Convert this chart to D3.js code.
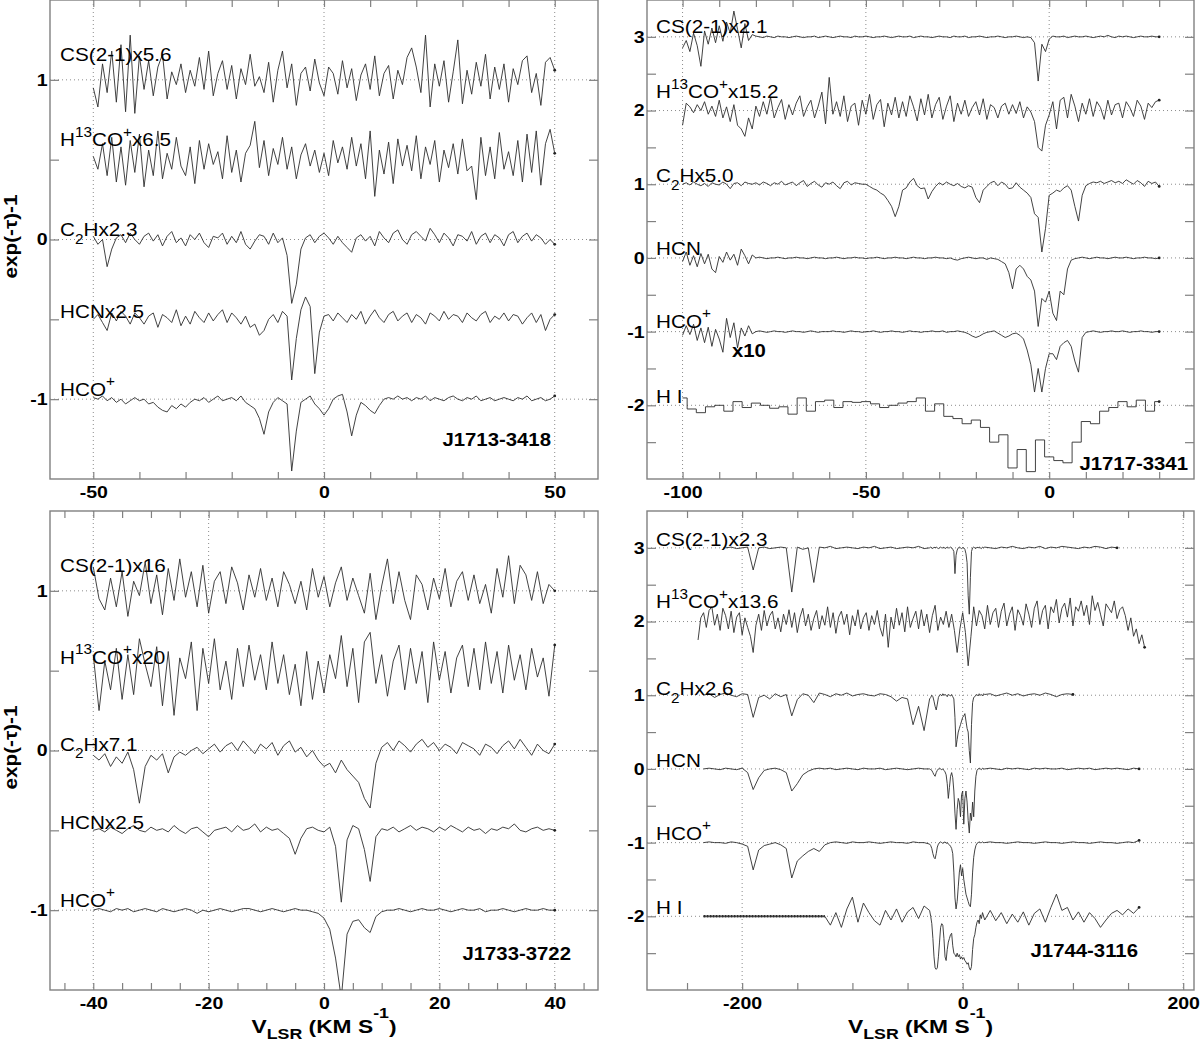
<!DOCTYPE html>
<html lang="en">
<head>
<meta charset="UTF-8">
<title>Absorption spectra towards four pulsars</title>
<script src="https://cdnjs.cloudflare.com/ajax/libs/d3/7.8.5/d3.min.js"></script>
<style>
  body { margin: 0; background: #fff; }
  svg text { font-family: "Liberation Sans", Arial, Helvetica, sans-serif; fill: #000; }
  .frame { fill: none; stroke: #808080; stroke-width: 1.4; }
  .axis .domain { display: none; }
  .axis line { stroke: #808080; stroke-width: 1.2; }
  .axis text { font-size: 17px; font-weight: bold; }
  .grid { stroke: #8c8c8c; stroke-width: 1; stroke-dasharray: 1,3; }
  .spec { fill: none; stroke: #2e2e2e; stroke-width: 0.9; stroke-linejoin: round; }
  .blank { fill: none; stroke: #2e2e2e; stroke-width: 2.4; stroke-dasharray: 2,1; }
</style>
</head>
<body>
<div id="chart"></div>
<script>
// exp(-tau)-1 of each line, in units of 0.01 (before the vertical offset)

// ---- J1713-3418, channels -50..50 km/s, 1 km/s ----
const j1713_vel = d3.range(-50, 51, 1);
const j1713_cs = [-5,-17,10,-8,18,-14,22,-20,28,-21, 15,-6,12,-10,8,16,-12,5,-3,10, -8,6,-4,14,-6,18,-10,4,12,-6,
  9,-12,7,-3,16,-4,2,-8,11,-14, 6,18,-5,10,-16,4,8,-7,13,-2, -10,8,4,-9,12,-5,7,-13,3,10,
  -6,15,-10,4,9,-12,6,-3,14,20, 8,-8,28,-17,10,-4,12,-14,5,25, -15,6,-9,11,-4,16,-12,8,-6,10, -14,7,-3,12,15,-8,4,-16,11,14,6];
const j1713_h13co = [2,-6,10,-10,14,-14,8,-16,12,-8, 16,-17,6,-10,18,-12,4,-6,14,-4, -10,8,-15,12,-6,10,-3,5,-12,15,
  -8,6,-14,4,9,24,-5,12,-10,7, -3,14,-6,8,-12,3,10,-4,6,-8, 4,-10,12,-2,8,-6,14,-4,10,-12,
  18,-23,6,-9,11,-15,13,-4,9,-7, 15,-12,8,-3,12,-14,6,-5,10,-9, 13,-7,-4,-25,14,-10,8,-12,17,-6, 5,-10,12,-14,16,-8,18,-16,10,19,4];
const j1713_c2h = [2,-3,0,-17,-6,1,3,-2,4,0, -3,2,4,-1,3,-4,2,5,-2,1, -4,3,0,4,-2,-5,2,1,4,-3,
  2,-2,5,-3,-6,-1,3,2,-3,4, -2,1,-10,-40,-28,-6,1,3,-2,2, 4,1,-3,2,-2,-5,-8,1,3,-1,
  2,-4,5,1,-2,4,6,0,-3,3, 5,2,-1,7,3,-2,4,1,-4,3, 2,-1,5,-3,2,4,-2,3,1,-4, 3,5,-2,2,4,-1,3,1,-3,0,-3];
const j1713_hcn = [0,3,-2,-7,4,-1,5,2,-3,4, 1,-3,2,4,-5,3,1,-2,6,-4, 2,-3,5,1,-2,4,-1,3,6,-2,
  4,1,-3,2,-5,-3,-10,-7,0,3, -2,5,2,-38,-12,6,14,8,-34,-8, 2,3,-1,4,1,-2,3,0,5,-3,
  2,6,1,-2,3,5,-1,2,4,-2, 3,1,-3,4,2,-1,5,0,3,2, -2,4,1,-1,3,5,-2,2,0,4, -1,3,2,-3,1,4,-2,3,-7,0,3];
const j1713_hco = [1,0,2,-1,1,-2,0,-3,-1,1, -1,0,-3,-2,-5,-7,-8,-4,-6,-3, -5,-2,0,-1,1,-2,0,2,-1,0,
  1,-1,2,-2,-4,-6,-12,-22,-8,-2, 1,-1,-3,-45,-20,-2,0,2,-3,-6, -10,-6,0,2,3,-8,-23,-10,-2,-4,
  -7,-9,-4,0,1,0,2,0,1,-1, 1,0,2,-1,1,0,-1,1,2,0, -1,1,0,2,-1,0,1,-1,0,1, 0,-1,1,0,2,-1,0,1,-1,0,2];
const j1713_offsets = [1, 0.5, 0, -0.5, -1];
const j1713_labels = ["CS(2-1)x5.6", "H^{13}CO^{+}x6.5", "C_{2}Hx2.3", "HCNx2.5", "HCO^{+}"];

// ---- J1717-3341, channels -100..30 km/s, 1 km/s (H I 2.5 km/s) ----
const j1717_vel = d3.range(-100, 31, 1);
const j1717_hi_vel = d3.range(-100, 31, 2.5);
const j1717_cs = [-15,-5,-20,5,-12,-40,8,-10,12,-8, 15,-6,20,5,35,10,-15,18,-5,3,
  1,0,-1,1,0,-1,1,0,0,-1, 0,1,0,-1,0,0,1,-1,0,1, 0,-1,0,1,0,0,-1,1,0,0, 1,0,-1,0,0,1,0,-1,0,1,
  0,0,1,-1,0,1,0,0,-1,0, 1,0,0,-1,1,0,0,1,-1,0, 0,1,0,-1,0,0,1,0,-1,0, 0,1,0,-1,0,-1,-8,-60,-10,-20,
  -3,1,0,0,1,-1,0,1,0,0, 1,0,-1,0,1,0,2,0,-1,1, 0,1,0,-1,0,1,0,0,1,0, 0];
const j1717_h13co = [-20,10,5,-3,8,0,12,-5,6,-8, 14,-10,5,-15,8,-20,-25,-35,-10,-25,
  6,-8,12,-5,18,-10,4,15,-12,8, -6,10,20,-8,5,14,-10,6,25,-18, 45,-5,12,-8,20,-15,6,10,-20,14,
  -5,22,-12,8,15,-22,10,-6,18,-10, 12,-8,20,5,-14,16,-6,22,-10,8, 18,-12,6,20,-15,10,-5,14,-8,4,
  12,-6,16,-12,8,4,-10,6,10,-5, 8,-4,12,-10,5,-2,-15,-50,-55,-20, -6,12,-25,14,18,-10,22,6,-15,10,
  -5,16,-8,12,4,-12,14,-6,8,10, -10,12,4,-8,14,6,-12,10,4,12, 14];
const j1717_c2h = [0,2,-1,3,0,-2,1,-3,2,0, -1,3,0,-6,1,2,-2,3,1,0, 2,-1,3,1,-2,2,0,4,-1,1,
  3,-2,2,5,-3,1,4,-1,-4,2, 0,3,-2,-6,2,4,-1,2,1,0, 0,-3,-6,-8,-12,-15,-22,-30,-44,-30,
  -8,-5,3,8,-2,-6,-5,-20,-10,-3, 2,-1,3,0,-2,1,-3,-5,-2,-4, -18,-25,-8,-3,2,4,-2,3,0,-6,
  -5,2,-4,-8,-12,-18,-40,-45,-92,-60, -15,-12,-8,-10,-5,-2,-8,-30,-50,-15,
  -2,1,3,2,4,1,3,5,2,4, 1,6,3,0,5,2,-3,4,1,3, -3];
const j1717_hcn = [-5,8,-10,3,-12,6,-8,5,-15,-20, 2,-6,8,-3,5,-10,12,3,-8,4,
  0,1,0,-1,0,0,1,0,-1,0, 0,1,0,0,-1,0,1,0,0,-1, 0,0,1,0,-1,0,0,1,0,0, -1,0,0,1,0,-1,0,0,1,0,
  0,-1,0,1,0,0,-1,0,0,1, 0,0,-1,0,-2,-3,-1,0,1,0, -1,0,0,-2,0,-1,-2,-5,-8,-20,
  -42,-15,-10,-15,-25,-30,-45,-93,-55,-60, -45,-75,-85,-45,-50,-15,-3,-1,0,1,
  0,-1,0,1,0,0,-1,0,1,0, 0,1,0,-1,0,0,1,0,0,-1, 0];
const j1717_hco = [-5,8,-4,10,-12,5,-15,6,-20,3, -10,-28,18,-8,12,-22,5,-6,8,-3,
  0,1,0,-1,0,1,0,0,-1,0, 1,0,0,-1,0,1,0,-1,0,0, 0,1,0,0,-1,0,1,0,0,-1, 0,0,1,0,-1,0,0,1,0,0,
  -1,0,1,0,0,-1,0,0,1,0, 0,1,-1,0,0,1,0,-1,-3,-6, -8,-6,-3,-1,0,1,-2,-5,-8,-6,
  -3,-2,-5,-10,-25,-45,-82,-50,-82,-50, -30,-30,-38,-20,-15,-12,-20,-40,-55,-8,
  -1,0,1,0,-1,0,0,1,0,0, 1,0,-1,0,0,1,0,0,-1,0, 0];
const j1717_hi = [10,-5,-10,-2,0,-8,5,-3,3,0, -4,-2,-12,10,-8,5,7,-3,5,4, 5,2,-3,0,3,5,10,-8,2,-15,
  -18,-25,-20,-30,-50,-40,-85,-60,-90,-47, -70,-75,-78,-50,-22,-25,-8,-3,5,-2, 7,-8,5];
const j1717_offsets = [3, 2, 1, 0, -1, -2];
const j1717_labels = ["CS(2-1)x2.1", "H^{13}CO^{+}x15.2", "C_{2}Hx5.0", "HCN", "HCO^{+}", "H I"];

// ---- J1733-3722, channels -40..40 km/s, 1 km/s ----
const j1733_vel = d3.range(-40, 41, 1);
const j1733_cs = [15,-5,-12,8,-10,12,-16,6,-3,18, -8,10,-15,14,-6,20,-4,12,-10,16, -14,6,12,-8,15,5,-12,10,-4,14,
  -6,8,-10,12,4,-8,6,-12,14,-4, 9,-10,5,15,-6,8,-3,-14,11,-18, 3,20,-8,12,-6,-18,10,4,-12,8,
  -5,14,-10,6,12,-6,10,-8,4,-14, 14,-4,22,-8,16,10,-6,12,-8,4, 0];
const j1733_h13co = [10,-25,6,-12,14,-18,10,-15,20,4, -10,15,-22,12,-28,8,-5,18,-25,14, -8,20,-12,6,-18,14,-10,16,-6,10,
  -12,18,-8,10,-15,4,-22,12,-18,6, -14,10,-5,22,-10,14,-20,18,24,-8, 10,-16,6,16,-12,14,-8,12,-20,18,
  -6,12,-14,8,16,-10,14,-12,18,-8, 12,-14,16,-6,10,-12,14,-4,8,-16, 16];
const j1733_c2h = [-3,-6,-2,-10,-4,-8,-1,-12,-33,-10, -3,-6,-2,-14,-4,-1,-3,0,2,-2, 1,4,-1,3,5,0,6,2,-2,4,
  1,5,-3,3,6,-1,2,-4,0,-6, -10,-8,-14,-6,-12,-16,-20,-30,-36,-8, 2,5,0,6,3,-1,4,7,2,5,
  0,4,2,-2,5,3,1,-3,4,2, -2,3,6,1,7,2,-3,4,0,-2, 4];
const j1733_hcn = [0,1,-1,2,0,-2,1,3,0,-1, 2,0,1,-1,3,0,-2,1,2,-1, -4,0,1,2,-1,3,0,1,4,-1,
  2,0,1,-2,-5,-15,-5,1,2,0, -1,2,-10,-45,-6,3,1,-12,-32,-4, 1,0,2,-1,1,3,0,2,1,-1,
  2,0,3,1,-1,2,0,1,-2,1, 0,2,1,4,0,-1,1,2,0,1, 0];
const j1733_hco = [0,1,0,-1,1,0,1,-1,0,1, 0,-1,1,0,-1,0,1,0,-2,0, -1,0,1,0,-1,0,1,1,0,-1,
  0,1,0,-1,0,1,0,0,-1,-2, -5,-12,-30,-55,-15,-7,-6,-11,-14,-4, -1,0,0,1,0,-1,0,1,0,0,
  1,0,-1,0,1,0,0,1,-1,0, 0,1,0,-1,0,1,0,0,1,0, 0];
const j1733_offsets = [1, 0.5, 0, -0.5, -1];
const j1733_labels = ["CS(2-1)x16", "H^{13}CO^{+}x20", "C_{2}Hx7.1", "HCNx2.5", "HCO^{+}"];

// ---- J1744-3116, channels every 5 km/s, every 1 km/s from -30 to 19 (H13CO+ every 2.5 km/s) ----
const j1744_vel = [...d3.range(-235, -34, 5), ...d3.range(-30, 20, 1), ...d3.range(20, 166, 5)];
const j1744_h13co_vel = d3.range(-240, 166, 2.5);
const j1744_cs = [null,null,null,null,0,1,-1,0,1,-30, 0,1,-1,0,1,0,-60,1,-2,0, -47,1,0,2,-1,0,1,0,-1,1, 0,2,-1,0,1,-1,0,1,0,2, -1,
  0,1,0,-1,1,0,1,0,-1,0, 1,0,0,1,-1,0,1,0,0,1, 0,-2,-5,-35,-10,-3,0,1,0,-1, 0,0,-2,-8,-20,-65,-90,-40,-5,0, 1,0,-1,1,0,1,0,-1,1,0,
  1,0,-1,1,0,2,0,-1,1,0, 2,-1,1,0,2,1,0,-1,1,0, 2,1,-1,1,0,null,null,null,null,null];
const j1744_h13co = [-25,5,12,-8,15,20,-5,10,-12,18, 8,-10,14,-15,6,12,-18,5,-8,-20, -42,-5,10,-12,15,-6,8,14,-10,5,
  -14,10,-4,16,-8,12,-15,6,18,-6, 10,-12,4,15,-10,8,-5,20,-8,12, -16,6,14,-4,10,-18,8,-6,16,-10,
  5,12,-12,8,-4,15,-8,-20,10,-35, 6,-10,18,-5,12,-14,20,-8,4,14, -10,16,-6,10,-15,8,22,-12,6,-4,
  14,-8,10,-12,-42,-10,12,-15,-60,-20, 20,-6,15,8,-10,22,-4,12,18,-8, 14,25,-6,10,20,-12,16,8,-5,24,
  10,-8,18,28,-4,15,22,-10,20,12, 30,-2,18,25,6,32,-6,20,14,28, 8,22,-4,35,15,26,10,-6,24,18,
  12,28,4,16,20,8,-12,5,-20,-10, -30,-18,-35];
const j1744_c2h = [0,2,-3,1,3,0,-2,2,1,-30, -3,0,-5,2,-2,1,-28,-6,2,0, -10,3,1,-2,2,0,3,-1,1,2, 0,-1,2,1,-2,-8,-3,-5,-40,-15, -48,
  -5,-3,0,-2,-8,-15,-20,-12,-3,0, 1,-1,2,0,1,0,-2,1,0,-1, 1,-2,-5,-30,-70,-60,-50,-45,-40,-35, -30,-28,-25,-35,-45,-50,-75,-92,-40,-10, -3,-2,0,1,-1,2,0,1,-1,2,
  1,2,-1,1,3,0,2,-1,1,2, 0,3,1,-2,1,2,1,null,null,null, null,null,null,null,null,null,null,null,null,null];
const j1744_hcn = [0,1,0,-1,1,0,-1,1,-5,-28, -12,-2,0,1,-1,-5,-30,-20,-8,-3, 0,1,0,1,-1,0,1,0,-1,1, 0,0,1,-1,0,1,0,-1,0,1, 0,
  0,-1,-2,-5,-8,-10,-5,-2,0,1, 0,-1,0,-2,-4,-8,-20,-40,-25,-10, -5,-12,-30,-60,-82,-55,-40,-45,-65,-35, -30,-75,-40,-30,-45,-70,-87,-60,-70,-45, -65,-30,-10,-2,0,1,0,-1,1,0,
  0,1,0,-1,1,0,1,0,-1,1, 0,1,0,0,1,-1,0,1,0,1, -1,0,1,0,1,0,-1,1,0,null];
const j1744_hco = [0,1,0,0,-1,1,0,-2,-5,-37, -10,-4,-2,0,-3,-8,-48,-25,-18,-12, -8,-12,-3,0,1,0,-1,1,0,0, 1,0,-1,0,1,0,0,-1,1,0, 0,
  -2,-4,-8,-15,-20,-22,-15,-6,-2,0, 1,0,-1,0,1,-1,0,-2,-3,-5, -8,-15,-40,-75,-90,-80,-60,-40,-30,-45, -35,-50,-60,-70,-75,-80,-85,-87,-70,-40, -20,-10,-4,-1,0,1,0,0,1,0,
  0,1,0,0,-1,0,1,0,0,-1, 0,1,0,0,-1,0,1,0,0,-1, 0,1,0,0,-1,0,1,0,3,null];
const j1744_hi = [0,0,0,0,0,0,0,0,0,0, 0,0,0,0,0,0,0,0,0,0, 0,0,0,-12,5,-15,10,26,-8,18, 5,-6,-12,8,-5,10,-8,6,12,-3, 14,
  8,0,-10,-30,-55,-70,-72,-70,-55,-35, -15,-10,-12,-30,-55,-60,-45,-35,-30,-25, -23,-40,-50,-52,-55,-50,-55,-52,-58,-55, -58,-56,-60,-62,-65,-63,-70,-73,-68,-45, -30,-25,-15,-8,-5,-10,2,-3,5,0,
  -5,8,-6,5,-10,3,-8,6,-12,4, 10,-8,12,30,8,12,-5,6,-8,5, -3,-15,-5,4,8,2,10,4,12,null];
const j1744_hi_blank = [-235, -125];   // H I channels with no data, drawn flat
const j1744_offsets = [3, 2, 1, 0, -1, -2];
const j1744_labels = ["CS(2-1)x2.3", "H^{13}CO^{+}x13.6", "C_{2}Hx2.6", "HCN", "HCO^{+}", "H I"];

// ---------------- layout ----------------
const W = 1200, H = 1042;
const panels = [
  { box: [50, 0, 598, 479], xDomain: [-59.38, 59.38], yDomain: [-1.5, 1.5],
    series: [j1713_cs, j1713_h13co, j1713_c2h, j1713_hcn, j1713_hco].map(v => ({ v, vel: j1713_vel })),
    offsets: j1713_offsets, labels: j1713_labels, labelY: [1.115, 0.583, 0.02, -0.49, -0.98], labelX: 60,
    xTicks: d3.range(-50, 51, 10), xLab: [-50, 0, 50], yTicks: d3.range(-1, 1.01, 0.5), yLab: [-1, 0, 1],
    name: "J1713-3418", namePos: [551, 446], yTitle: true },
  { box: [647, 0, 1194, 479], xDomain: [-109.7, 39.5], yDomain: [-3, 3.5],
    series: [j1717_cs, j1717_h13co, j1717_c2h, j1717_hcn, j1717_hco].map(v => ({ v, vel: j1717_vel }))
      .concat([{ v: j1717_hi, vel: j1717_hi_vel, step: true }]),
    offsets: j1717_offsets, labels: j1717_labels, labelY: [3.055, 2.17, 1.03, 0.04, -0.95, -1.97], labelX: 656,
    xTicks: d3.range(-100, 31, 10), xLab: [-100, -50, 0], yTicks: d3.range(-2.5, 3.01, 0.5), yLab: [-2, -1, 0, 1, 2, 3],
    name: "J1717-3341", namePos: [1188, 470], extra: { text: "x10", pos: [732, 357] } },
  { box: [50, 511, 598, 990], xDomain: [-47.5, 47.5], yDomain: [-1.5, 1.5],
    series: [j1733_cs, j1733_h13co, j1733_c2h, j1733_hcn, j1733_hco].map(v => ({ v, vel: j1733_vel })),
    offsets: j1733_offsets, labels: j1733_labels, labelY: [1.12, 0.544, 0.0, -0.494, -0.98], labelX: 60,
    xTicks: d3.range(-45, 46, 5), xLab: [-40, -20, 0, 20, 40], yTicks: d3.range(-1, 1.01, 0.5), yLab: [-1, 0, 1],
    name: "J1733-3722", namePos: [571, 960], yTitle: true, xTitle: true },
  { box: [647, 511, 1194, 990], xDomain: [-286.3, 209.8], yDomain: [-3, 3.5],
    series: [j1744_cs, j1744_h13co, j1744_c2h, j1744_hcn, j1744_hco, j1744_hi]
      .map((v, i) => ({ v, vel: i === 1 ? j1744_h13co_vel : j1744_vel })),
    offsets: j1744_offsets, labels: j1744_labels, labelY: [3.02, 2.18, 1.0, 0.02, -0.96, -1.97], labelX: 656,
    xTicks: d3.range(-250, 201, 50), xLab: [-200, 0, 200], yTicks: d3.range(-2.5, 3.01, 0.5), yLab: [-2, -1, 0, 1, 2, 3],
    name: "J1744-3116", namePos: [1138, 957], xTitle: true, blank: j1744_hi_blank }
];

const svg = d3.select("#chart").append("svg").attr("width", W).attr("height", H);

// text with ^{sup} and _{sub} pieces, stretched horizontally like the original lettering
function rich(parent, x, y, str, o) {
  const g = parent.append("g")
    .attr("transform", `translate(${x},${y})${o.rotate ? " rotate(-90)" : ""} scale(${o.sx},1)`);
  const t = g.append("text")
    .attr("font-size", o.size)
    .attr("font-weight", o.weight || "normal")
    .attr("text-anchor", o.anchor || "start")
    .style("white-space", "pre");
  let cur = 0;
  str.split(/(\^\{[^}]*\}|_\{[^}]*\})/).filter(s => s.length).forEach(s => {
    let target = 0, fs = o.size, txt = s;
    if (s[0] === "^") { target = -o.rise; fs = o.size * o.small; txt = s.slice(2, -1); }
    else if (s[0] === "_") { target = o.drop; fs = o.size * o.small; txt = s.slice(2, -1); }
    t.append("tspan").attr("dy", target - cur).attr("font-size", fs).text(txt);
    cur = target;
  });
  return g;
}

const labelStyle = { size: 19, sx: 1.09, small: 0.74, rise: 9.5, drop: 7.5 };

panels.forEach((p, pi) => {
  const [x0, y0, x1, y1] = p.box;
  const x = d3.scaleLinear().domain(p.xDomain).range([x0, x1]);
  const y = d3.scaleLinear().domain(p.yDomain).range([y1, y0]);
  const g = svg.append("g");

  g.append("clipPath").attr("id", "clip" + pi)
    .append("rect").attr("x", x0).attr("y", y0).attr("width", x1 - x0).attr("height", y1 - y0);

  // dotted grid at labelled values
  g.selectAll(".gx").data(p.xLab).join("line").attr("class", "grid")
    .attr("x1", d => x(d)).attr("x2", d => x(d)).attr("y1", y0).attr("y2", y1);
  g.selectAll(".gy").data(p.yLab).join("line").attr("class", "grid")
    .attr("x1", x0).attr("x2", x1).attr("y1", d => y(d)).attr("y2", d => y(d));

  // axes, ticks pointing inward
  const fmtX = d => p.xLab.includes(d) ? String(d) : "";
  const fmtY = d => p.yLab.includes(d) ? String(d) : "";
  g.append("g").attr("class", "axis").attr("transform", `translate(0,${y1})`)
    .call(d3.axisBottom(x).tickValues(p.xTicks).tickSize(-7).tickPadding(7).tickFormat(fmtX))
    .selectAll("text").attr("transform", "scale(1.15,1)");
  g.append("g").attr("class", "axis").attr("transform", `translate(0,${y0})`)
    .call(d3.axisTop(x).tickValues(p.xTicks).tickSize(-7).tickFormat(""));
  g.append("g").attr("class", "axis").attr("transform", `translate(${x0},0)`)
    .call(d3.axisLeft(y).tickValues(p.yTicks).tickSize(-9).tickPadding(2).tickFormat(fmtY))
    .selectAll("text").attr("transform", "scale(1.15,1)");
  g.append("g").attr("class", "axis").attr("transform", `translate(${x1},0)`)
    .call(d3.axisRight(y).tickValues(p.yTicks).tickSize(-9).tickFormat(""));
  g.selectAll(".axis").attr("font-family", null).attr("font-size", null);

  g.append("rect").attr("class", "frame")
    .attr("x", x0).attr("y", y0).attr("width", x1 - x0).attr("height", y1 - y0);

  // spectra
  const plot = g.append("g").attr("clip-path", `url(#clip${pi})`);
  p.series.forEach((s, i) => {
    const pts = s.vel.map((v, k) => [v, s.v[k] == null ? null : p.offsets[i] + s.v[k] / 100]);
    const line = d3.line().defined(d => d[1] != null)
      .x(d => x(d[0])).y(d => y(d[1]))
      .curve(s.step ? d3.curveStep : d3.curveLinear);
    plot.append("path").attr("class", "spec").attr("d", line(pts));
    const last = pts.filter(d => d[1] != null).pop();
    plot.append("circle").attr("cx", x(last[0])).attr("cy", y(last[1])).attr("r", 1.4).attr("fill", "#222");
    if (p.blank && i === p.series.length - 1) {
      const flat = pts.filter(d => d[0] >= p.blank[0] && d[0] <= p.blank[1]);
      plot.append("path").attr("class", "blank").attr("d", d3.line().x(d => x(d[0])).y(d => y(d[1]))(flat));
    }
  });

  // line labels
  p.labels.forEach((lab, i) => rich(g, p.labelX, y(p.labelY[i]), lab, labelStyle));

  // source name
  rich(g, p.namePos[0], p.namePos[1], p.name, { size: 18.5, weight: "bold", sx: 1.1, anchor: "end" });
  if (p.extra) rich(g, p.extra.pos[0], p.extra.pos[1], p.extra.text, { size: 18.5, weight: "bold", sx: 1.1 });

  if (p.yTitle)
    rich(g, 17, (y0 + y1) / 2 - 3, "exp(-τ)-1", { size: 18, weight: "bold", sx: 1.15, anchor: "middle", rotate: true });
  if (p.xTitle)
    rich(g, (x0 + x1) / 2, 1033, "V_{LSR} (KM S^{-1})",
      { size: 19, weight: "bold", sx: 1.2, anchor: "middle", small: 0.78, rise: 15, drop: 6 });
});
</script>
</body>
</html>
